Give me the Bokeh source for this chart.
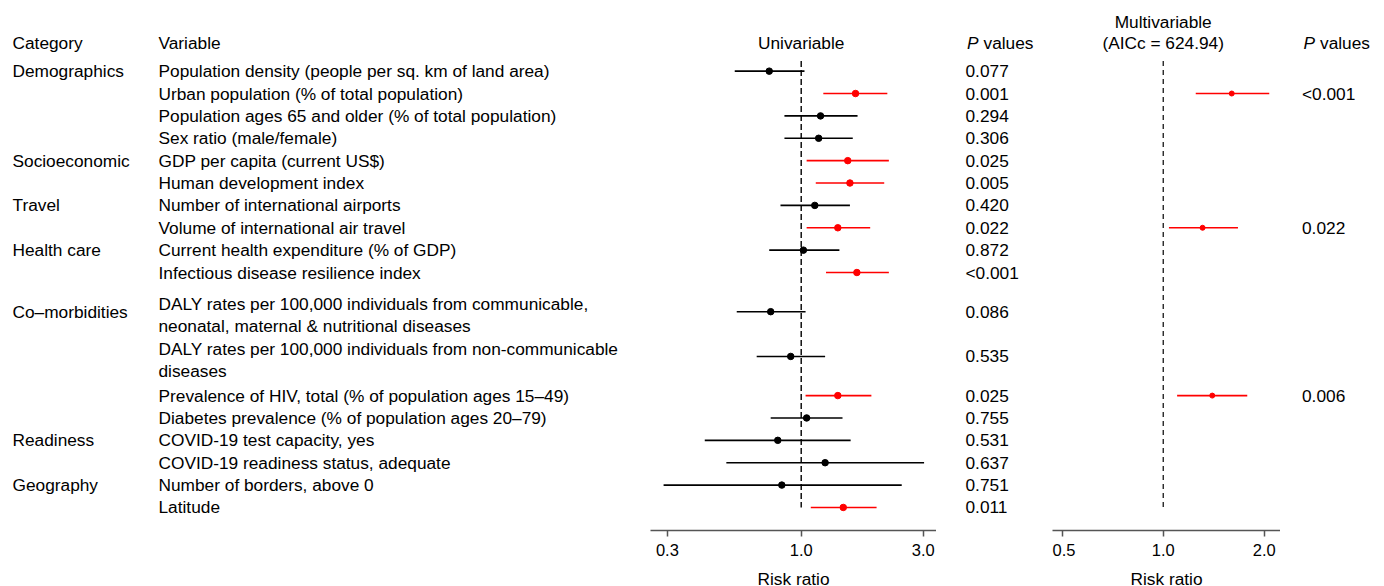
from bokeh.plotting import figure
from bokeh.layouts import row
from bokeh.models import Range1d, FixedTicker, PrintfTickFormatter, ColumnDataSource
from bokeh.core.properties import value
from bokeh.embed import file_html
from bokeh.resources import INLINE

# ---------------- data ----------------
categories = ["Demographics", "", "", "", "Socioeconomic", "", "Travel", "",
              "Health care", "", "Co\u2013morbidities", "", "", "", "Readiness", "",
              "Geography", ""]
variables = [
    "Population density (people per sq. km of land area)",
    "Urban population (% of total population)",
    "Population ages 65 and older (% of total population)",
    "Sex ratio (male/female)",
    "GDP per capita (current US$)",
    "Human development index",
    "Number of international airports",
    "Volume of international air travel",
    "Current health expenditure (% of GDP)",
    "Infectious disease resilience index",
    "DALY rates per 100,000 individuals from communicable,\nneonatal, maternal & nutritional diseases",
    "DALY rates per 100,000 individuals from non-communicable\ndiseases",
    "Prevalence of HIV, total (% of population ages 15\u201349)",
    "Diabetes prevalence (% of population ages 20\u201379)",
    "COVID-19 test capacity, yes",
    "COVID-19 readiness status, adequate",
    "Number of borders, above 0",
    "Latitude",
]
uni_rr = [0.75, 1.63, 1.19, 1.17, 1.52, 1.55, 1.13, 1.39, 1.02, 1.65,
          0.76, 0.91, 1.39, 1.05, 0.81, 1.24, 0.84, 1.46]
uni_lo = [0.55, 1.22, 0.86, 0.86, 1.05, 1.14, 0.83, 1.05, 0.75, 1.25,
          0.56, 0.67, 1.04, 0.76, 0.42, 0.51, 0.29, 1.09]
uni_hi = [1.03, 2.17, 1.66, 1.59, 2.20, 2.11, 1.55, 1.86, 1.41, 2.20,
          1.04, 1.24, 1.88, 1.45, 1.56, 3.02, 2.47, 1.97]
uni_p = ["0.077", "0.001", "0.294", "0.306", "0.025", "0.005", "0.420", "0.022",
         "0.872", "<0.001", "0.086", "0.535", "0.025", "0.755", "0.531", "0.637",
         "0.751", "0.011"]

multi_vars = ["Urban population (% of total population)",
              "Volume of international air travel",
              "Prevalence of HIV, total (% of population ages 15\u201349)"]
multi_rr = [1.60, 1.31, 1.40]
multi_lo = [1.25, 1.04, 1.10]
multi_hi = [2.07, 1.67, 1.78]
multi_p = ["<0.001", "0.022", "0.006"]

uni_ticks = [0.3, 1.0, 3.0]
multi_ticks = [0.5, 1.0, 2.0]
NULL_RR = 1.0
multi_title = ["Multivariable", "(AICc = 624.94)"]

# ---------------- layout helpers ----------------
RED = "#ff0000"
BLACK = "#000000"
FONT = "Liberation Sans"
FS = "17.3px"
PAD = 8

nlines = [v.count("\n") + 1 for v in variables]
ypos = [1.0]
for i in range(1, len(variables)):
    a, b = nlines[i - 1], nlines[i]
    gap = 1.0 if (a == 1 and b == 1) else (2.0 if (a > 1 and b > 1) else 1.75)
    ypos.append(ypos[-1] + gap)

HEAD_Y = -0.25
FRAME_H = 522
Y_RANGE = Range1d(21.53, -1.80)


def sig(p):
    return float(p.lstrip("<")) < 0.05


def make_fig(fw, xr, xtype="linear", axis=False, left=0):
    p = figure(frame_width=fw, frame_height=FRAME_H, x_range=xr, y_range=Y_RANGE,
               x_axis_type=xtype, x_axis_location="below" if axis else None,
               y_axis_location=None, toolbar_location=None, output_backend="svg",
               min_border=0, min_border_top=PAD, min_border_left=left,
               outline_line_color=None, background_fill_color="white",
               border_fill_color="white")
    p.grid.visible = False
    return p


def style_axis(p, ticks):
    ax = p.xaxis[0]
    ax.ticker = FixedTicker(ticks=ticks)
    ax.formatter = PrintfTickFormatter(format="%.1f")
    ax.minor_tick_line_color = None
    ax.axis_line_color = "#555555"
    ax.axis_line_width = 1.5
    ax.major_tick_line_color = "#555555"
    ax.major_tick_line_width = 1.5
    ax.major_tick_out = 6
    ax.major_tick_in = 0
    ax.major_label_text_font = FONT
    ax.major_label_text_font_size = "16.5px"
    ax.major_label_text_color = BLACK
    ax.major_label_standoff = 7
    ax.axis_label = "Risk ratio"
    ax.axis_label_text_font = FONT
    ax.axis_label_text_font_size = FS
    ax.axis_label_text_font_style = "normal"
    ax.axis_label_text_color = BLACK
    ax.axis_label_standoff = 10


def add_text(p, xs, ys, texts, align="left", style="normal"):
    p.text(x=xs, y=ys, text=texts, text_font=value(FONT), text_font_size=FS,
           text_align=align, text_baseline="middle", text_color=BLACK,
           text_font_style=style)


# ---------------- left text panel ----------------
W_TEXT, W_UNI, W_P1, W_MULTI, W_P2 = 642, 286, 116, 228, 96
ft = make_fig(W_TEXT, Range1d(0, W_TEXT), left=PAD)
CAT_X, VAR_X = 4, 150
add_text(ft, [CAT_X, VAR_X], [HEAD_Y, HEAD_Y], ["Category", "Variable"])
cx, cy, ct = [], [], []
for c, y in zip(categories, ypos):
    if c:
        cx.append(CAT_X); cy.append(y); ct.append(c)
add_text(ft, cx, cy, ct)
vx, vy, vt = [], [], []
for v, y, n in zip(variables, ypos, nlines):
    parts = v.split("\n")
    offs = [0.0] if n == 1 else [-0.33, 0.64]
    for part, o in zip(parts, offs):
        vx.append(VAR_X); vy.append(y + o); vt.append(part)
add_text(ft, vx, vy, vt)

# ---------------- univariable panel ----------------
fu = make_fig(W_UNI, Range1d(0.2578, 3.377), "log", axis=True)
style_axis(fu, uni_ticks)
ucol = [RED if sig(p) else BLACK for p in uni_p]
src_u = ColumnDataSource(dict(y=ypos, rr=uni_rr, lo=uni_lo, hi=uni_hi, c=ucol))
fu.segment(x0="lo", y0="y", x1="hi", y1="y", color="c", line_width=1.6, source=src_u)
fu.segment(x0=[NULL_RR], y0=[ypos[0] - 0.45], x1=[NULL_RR], y1=[ypos[-1]],
           line_color=BLACK, line_width=1.4, line_dash="6 3")
fu.scatter(x="rr", y="y", size=6.5, color="c", source=src_u)
add_text(fu, [NULL_RR], [HEAD_Y], ["Univariable"], align="center")

# ---------------- univariable P values ----------------
fp1 = make_fig(W_P1, Range1d(0, W_P1))
P1_X = 29
add_text(fp1, [P1_X + 1.5], [HEAD_Y], ["P"], style="italic")
add_text(fp1, [P1_X + 18], [HEAD_Y], ["values"])
add_text(fp1, [P1_X] * len(uni_p), ypos, uni_p)

# ---------------- multivariable panel ----------------
fm = make_fig(W_MULTI, Range1d(0.4678, 2.236), "log", axis=True)
style_axis(fm, multi_ticks)
my = [ypos[variables.index(v)] for v in multi_vars]
src_m = ColumnDataSource(dict(y=my, rr=multi_rr, lo=multi_lo, hi=multi_hi))
fm.segment(x0="lo", y0="y", x1="hi", y1="y", color=RED, line_width=1.6, source=src_m)
fm.segment(x0=[NULL_RR], y0=[ypos[0] - 0.45], x1=[NULL_RR], y1=[ypos[-1]],
           line_color=BLACK, line_width=1.2, line_dash="5 4")
fm.scatter(x="rr", y="y", size=5, color=RED, source=src_m)
add_text(fm, [NULL_RR, NULL_RR], [-1.19, HEAD_Y], multi_title, align="center")

# ---------------- multivariable P values ----------------
fp2 = make_fig(W_P2, Range1d(0, W_P2))
P2_X = 21.5
add_text(fp2, [P2_X + 1.5], [HEAD_Y], ["P"], style="italic")
add_text(fp2, [P2_X + 18], [HEAD_Y], ["values"])
add_text(fp2, [P2_X] * len(multi_p), my, multi_p)

layout = row(ft, fu, fp1, fm, fp2)
open("out.html", "w").write(file_html(layout, INLINE))
